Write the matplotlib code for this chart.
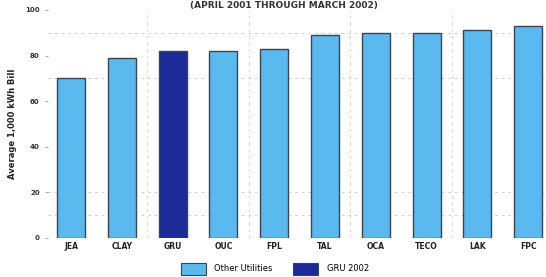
import matplotlib.pyplot as plt
from matplotlib.patches import Patch

utilities = ['JEA', 'CLAY', 'GRU', 'OUC', 'FPL', 'TAL', 'OCA', 'TECO', 'LAK', 'FPC']
bills = [70, 79, 82, 82, 83, 89, 90, 90, 91, 93]
highlight = 'GRU'
yticks = [0, 20, 40, 60, 80, 100]

light = '#5ab9ef'
dark = '#1c2a9a'
colors = [dark if u == highlight else light for u in utilities]

fig = plt.figure(figsize=(5.46, 2.77), dpi=100)
ax = fig.add_axes([0.088, 0.141, 0.912, 0.823])

x = list(range(len(utilities)))
ax.bar(x, bills, width=0.55, color=colors, edgecolor='#3a4450', linewidth=1.0, zorder=3)

# faint dashed grid, like the scanned original
for v in [10, 20, 70, 90]:
    ax.axhline(v, color='#c4c4c4', linestyle=(0, (3, 5)), linewidth=0.6, zorder=1)
for xv in [1.5, 3.5, 5.5, 7.5]:
    ax.axvline(xv, color='#cccccc', linestyle=(0, (3, 5)), linewidth=0.6, zorder=1)

ax.set_xlim(-0.45, 9.35)
ax.set_ylim(0, 100)
ax.set_xticks(x)
ax.set_xticklabels(utilities, fontsize=5.5, fontweight='bold', color='#222222')
ax.set_yticks(yticks)
ax.set_yticklabels([str(t) for t in yticks], fontsize=5, fontweight='bold', color='#333333')
ax.tick_params(axis='x', length=0, pad=3)
ax.tick_params(axis='y', length=2, color='#aaaaaa', pad=4)
for s in ax.spines.values():
    s.set_visible(False)

ax.set_ylabel('Average 1,000 kWh Bill', fontsize=6, fontweight='bold', color='#222222', labelpad=6)

fig.text(0.52, 0.998, '(APRIL 2001 THROUGH MARCH 2002)', fontsize=6.5, fontweight='bold',
         color='#333333', ha='center', va='top')

handles = [Patch(facecolor=light, edgecolor='#3a4450', linewidth=0.8),
           Patch(facecolor=dark, edgecolor='#3a4450', linewidth=0.8)]
fig.legend(handles, ['Other Utilities', 'GRU 2002'], loc='center', bbox_to_anchor=(0.503, 0.03),
           ncol=2, frameon=False, fontsize=6, handlelength=3.0, handleheight=1.8,
           columnspacing=2.5, handletextpad=1.0)

fig.savefig('out.png', dpi=100)
